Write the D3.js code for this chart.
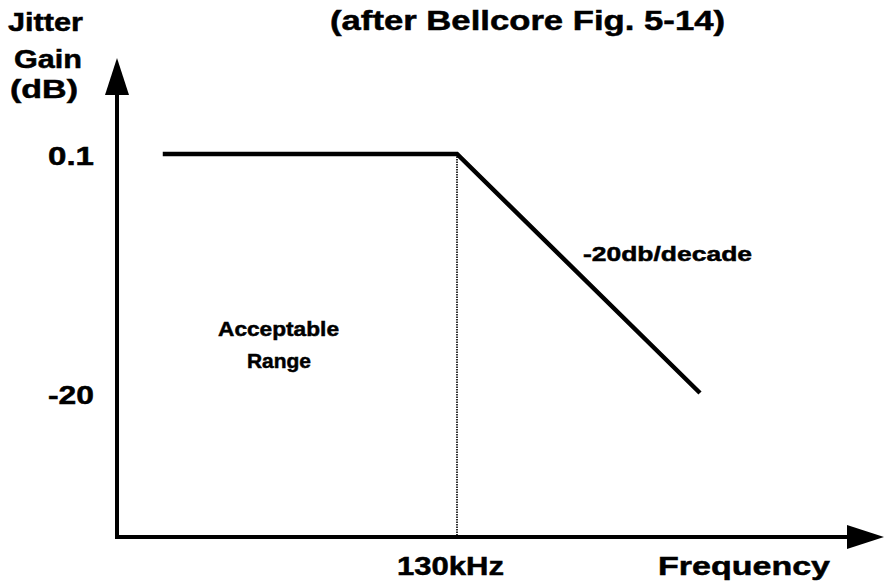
<!DOCTYPE html>
<html>
<head>
<meta charset="utf-8">
<script src="https://cdn.jsdelivr.net/npm/d3@7"></script>
<style>
  body { margin: 0; background: #fff; }
  svg text { font-family: "Liberation Sans", Arial, Helvetica, sans-serif; font-weight: bold; fill: #000; stroke: #000; stroke-width: 0.5; }
</style>
</head>
<body>
<svg id="chart" width="886" height="586"></svg>
<script>
// response curve (frequency in kHz, gain in dB)
const freqKHz = [8, 130, 1300];
const gainDb = [0.1, 0.1, -20];
const yTicks = [0.1, -20];
const yTickLabels = ['0.1', '-20'];
const xTicks = [130];
const xTickLabels = ['130kHz'];
const cornerFreq = 130;

const svg = d3.select('#chart');
const origin = { x: 117, y: 537 };
const yTip = 58, xTip = 884;
const headLen = 37, headHalf = 12;

// log frequency axis, one decade = 243px; linear dB axis
let x = d3.scaleLog().domain([130, 1300]).range([457, 700]);
let y = d3.scaleLinear().domain([0.1, -20]).range([154, 393]);

// axes with filled arrowheads
svg.append('line')
  .attr('x1', origin.x).attr('y1', origin.y + 2)
  .attr('x2', origin.x).attr('y2', yTip + headLen - 2)
  .attr('stroke', '#000').attr('stroke-width', 4);
svg.append('path')
  .attr('d', `M${origin.x},${yTip} L${origin.x + headHalf},${yTip + headLen} L${origin.x - headHalf},${yTip + headLen} Z`)
  .attr('fill', '#000');

svg.append('line')
  .attr('x1', origin.x - 2).attr('y1', origin.y)
  .attr('x2', xTip - headLen + 2).attr('y2', origin.y)
  .attr('stroke', '#000').attr('stroke-width', 4);
svg.append('path')
  .attr('d', `M${xTip},${origin.y} L${xTip - headLen},${origin.y - headHalf} L${xTip - headLen},${origin.y + headHalf} Z`)
  .attr('fill', '#000');

// dotted corner line
svg.append('line')
  .attr('x1', x(cornerFreq)).attr('y1', y(0.1))
  .attr('x2', x(cornerFreq)).attr('y2', origin.y)
  .attr('stroke', '#000').attr('stroke-width', 1.6)
  .attr('stroke-dasharray', '1.5,1');

// curve
const line = d3.line().x((d, i) => x(freqKHz[i])).y(d => y(d));
svg.append('path')
  .attr('d', line(gainDb))
  .attr('fill', 'none')
  .attr('stroke', '#000')
  .attr('stroke-width', 4.5)
  .attr('stroke-linejoin', 'miter');

// text helper: start x, baseline y, size, fitted width
const label = (txt, px, py, size, len) =>
  svg.append('text').attr('x', px).attr('y', py)
    .attr('font-size', size)
    .attr('textLength', len)
    .attr('lengthAdjust', 'spacingAndGlyphs')
    .text(txt);

// tick labels
yTicks.forEach((t, i) => {
  label(yTickLabels[i], 48, y(t) + 11, 26, 46);
});
xTicks.forEach((t, i) => {
  label(xTickLabels[i], x(t) - 60, 575, 26, 107);
});

label('Jitter', 8, 31, 26, 75);
label('Gain', 14, 68, 26, 68);
label('(dB)', 10, 98, 26, 68);
label('(after Bellcore Fig. 5-14)', 330, 30, 27, 395);
label('Frequency', 658, 575, 26, 172);
label('-20db/decade', 583, 261, 21, 169);
label('Acceptable', 218, 336, 21, 121);
label('Range', 247, 368, 21, 64);
</script>
</body>
</html>
